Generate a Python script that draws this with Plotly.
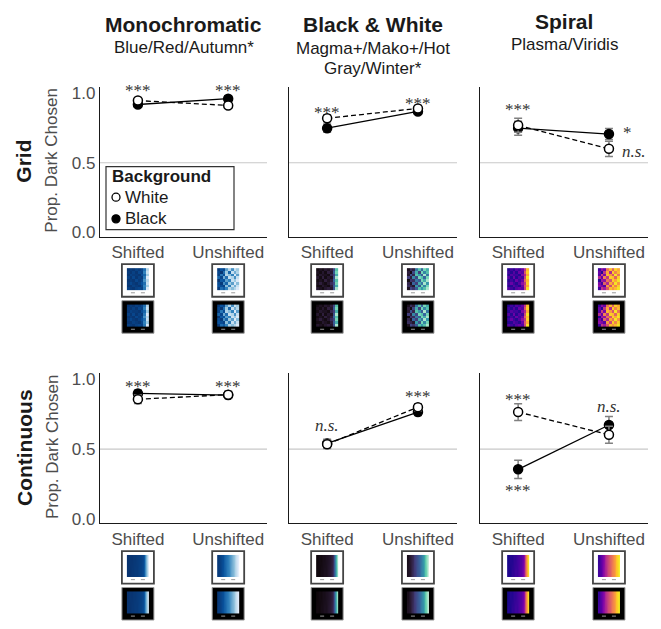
import plotly.graph_objects as go

W, H = 661, 629

categories = ["Shifted", "Unshifted"]
col_titles = ["Monochromatic", "Black & White", "Spiral"]
col_subtitles = [["Blue/Red/Autumn*"], ["Magma+/Mako+/Hot", "Gray/Winter*"], ["Plasma/Viridis"]]
row_titles = ["Grid", "Continuous"]
y_tick_vals = [0.0, 0.5, 1.0]
y_tick_text = ["0.0", "0.5", "1.0"]

# Proportion dark chosen, per colormap group [Shifted, Unshifted]
grid_white_mean = [[0.946, 0.911], [0.819, 0.890], [0.769, 0.600]]
grid_black_mean = [[0.918, 0.960], [0.748, 0.868], [0.748, 0.706]]
grid_white_err = [[0.02, 0.02], [0.025, 0.02], [0.05, 0.055]]
grid_black_err = [[0.02, 0.02], [0.03, 0.02], [0.05, 0.04]]

cont_white_mean = [[0.855, 0.888], [0.535, 0.799], [0.764, 0.602]]
cont_black_mean = [[0.897, 0.885], [0.540, 0.764], [0.356, 0.672]]
cont_white_err = [[0.03, 0.025], [0.03, 0.025], [0.06, 0.06]]
cont_black_err = [[0.025, 0.025], [0.03, 0.025], [0.065, 0.06]]

# significance labels: (row, col, x, y, text, xanchor)
sig_labels = [
    (0, 0, 0, 1.017, "***", "center"), (0, 0, 1, 1.017, "***", "center"),
    (0, 1, 0, 0.861, "***", "center"), (0, 1, 1, 0.925, "***", "center"),
    (0, 2, 0, 0.883, "***", "center"), (0, 2, 1.13, 0.715, "*", "left"),
    (0, 2, 1.12, 0.58, "<i>n.s.</i>", "left"),
    (1, 0, 0, 0.944, "***", "center"), (1, 0, 1, 0.944, "***", "center"),
    (1, 1, 0, 0.665, "<i>n.s.</i>", "center"), (1, 1, 1, 0.877, "***", "center"),
    (1, 2, 0, 0.855, "***", "center"), (1, 2, 0, 0.208, "***", "center"),
    (1, 2, 1, 0.806, "<i>n.s.</i>", "center"),
]

# thumbnail images (stimulus previews)
grid_shifted_img = [
    [0.05, 0.10, 0.05, 0.15, 0.10, 0.20, 0.45, 0.85],
    [0.10, 0.05, 0.15, 0.05, 0.20, 0.15, 0.55, 0.90],
    [0.05, 0.15, 0.10, 0.10, 0.05, 0.25, 0.40, 0.80],
    [0.15, 0.05, 0.20, 0.05, 0.15, 0.10, 0.50, 0.95],
    [0.05, 0.10, 0.05, 0.20, 0.10, 0.20, 0.60, 0.85],
    [0.10, 0.20, 0.10, 0.05, 0.15, 0.30, 0.45, 0.90],
    [0.05, 0.05, 0.15, 0.10, 0.05, 0.20, 0.55, 0.80],
    [0.15, 0.10, 0.05, 0.15, 0.20, 0.15, 0.50, 0.95],
]
grid_unshifted_img = [
    [0.10, 0.30, 0.20, 0.65, 0.85, 0.60, 0.90, 0.80],
    [0.20, 0.05, 0.45, 0.80, 0.40, 0.90, 0.70, 0.85],
    [0.15, 0.50, 0.25, 0.85, 0.75, 0.55, 0.95, 0.65],
    [0.40, 0.20, 0.70, 0.45, 0.90, 0.85, 0.60, 0.90],
    [0.05, 0.35, 0.30, 0.65, 0.55, 0.90, 0.80, 0.95],
    [0.25, 0.10, 0.60, 0.40, 0.80, 0.65, 0.95, 0.75],
    [0.30, 0.25, 0.15, 0.75, 0.50, 0.90, 0.70, 0.90],
    [0.10, 0.45, 0.35, 0.55, 0.85, 0.75, 0.85, 0.95],
]
cont_shifted_img = [
    [0.02, 0.05, 0.04, 0.08, 0.07, 0.10, 0.12, 0.15, 0.22, 0.42, 0.72, 0.95],
    [0.04, 0.03, 0.07, 0.06, 0.10, 0.09, 0.14, 0.17, 0.25, 0.45, 0.70, 0.93],
]
cont_unshifted_img = [
    [0.08, 0.17, 0.25, 0.33, 0.43, 0.50, 0.59, 0.66, 0.75, 0.82, 0.91, 0.97],
    [0.11, 0.15, 0.27, 0.35, 0.40, 0.52, 0.57, 0.68, 0.73, 0.84, 0.89, 0.98],
]

mono_cs = [[0, "#08306b"], [0.3, "#08519c"], [0.55, "#3182bd"], [0.8, "#9ecae1"], [1, "#eff3ff"]]
mako_cs = [[0, "#0b0405"], [0.2, "#2e1e3c"], [0.4, "#413d7b"], [0.6, "#37659e"],
           [0.75, "#3497a9"], [0.88, "#60ceac"], [1, "#def5e5"]]
col_colorscales = [mono_cs, mako_cs, "Plasma"]

# ---------------- layout geometry (pixels) ----------------
col_px = [(100, 267), (289, 457), (480, 648)]
row_px = [(85, 237), (375, 528)]
x_range = [-0.42, 1.43]
y_range = [-0.03, 1.045]

SANS = "Liberation Sans"
SERIF = "Liberation Serif"
GREY_TXT = "#4d4d4d"

fig = go.Figure()
layout = dict(
    width=W, height=H, margin=dict(l=0, r=0, t=0, b=0),
    paper_bgcolor="white", plot_bgcolor="rgba(0,0,0,0)",
    showlegend=False, font=dict(family=SANS, size=17, color="#1a1a1a"),
)
shapes, annotations = [], []

means = [(grid_white_mean, grid_black_mean, grid_white_err, grid_black_err),
         (cont_white_mean, cont_black_mean, cont_white_err, cont_black_err)]

for r in range(2):
    wm, bm, we, be = means[r]
    for c in range(3):
        i = r * 3 + c + 1
        xs = "" if i == 1 else str(i)
        x0p, x1p = col_px[c]
        y0p, y1p = row_px[r]
        layout["xaxis" + xs] = dict(
            domain=[x0p / W, x1p / W], range=x_range, anchor="y" + xs,
            tickvals=[0, 1], ticktext=categories, showgrid=False, zeroline=False,
            showline=True, linecolor="#1a1a1a", linewidth=1.2, ticks="",
            tickfont=dict(family=SANS, size=17, color=GREY_TXT), fixedrange=True,
        )
        layout["yaxis" + xs] = dict(
            domain=[1 - y1p / H, 1 - y0p / H], range=y_range, anchor="x" + xs,
            tickvals=y_tick_vals, ticktext=y_tick_text, showticklabels=(c == 0),
            showgrid=False, zeroline=False, showline=True, linecolor="#1a1a1a",
            linewidth=1.2, ticks="", tickfont=dict(family=SANS, size=17, color=GREY_TXT),
            fixedrange=True,
        )
        shapes.append(dict(type="line", xref="x" + xs + " domain", yref="y" + xs,
                           x0=0, x1=1, y0=0.5, y1=0.5, layer="below",
                           line=dict(color="#c8c8c8", width=1.2)))
        # black background series
        fig.add_trace(go.Scatter(
            x=[0, 1], y=bm[c], xaxis="x" + xs, yaxis="y" + xs, mode="lines+markers",
            line=dict(color="black", width=1.3),
            marker=dict(size=9, color="black", line=dict(color="black", width=1.5)),
            error_y=dict(type="data", array=be[c], color="#808080", thickness=1.5, width=4),
            cliponaxis=False, name="Black", hoverinfo="y",
        ))
        # white background series
        fig.add_trace(go.Scatter(
            x=[0, 1], y=wm[c], xaxis="x" + xs, yaxis="y" + xs, mode="lines+markers",
            line=dict(color="black", width=1.3, dash="5px,3px"),
            marker=dict(size=9, color="white", line=dict(color="black", width=1.5)),
            error_y=dict(type="data", array=we[c], color="#808080", thickness=1.5, width=4),
            cliponaxis=False, name="White", hoverinfo="y",
        ))

for (r, c, x, y, txt, xa) in sig_labels:
    i = r * 3 + c + 1
    xs = "" if i == 1 else str(i)
    annotations.append(dict(xref="x" + xs, yref="y" + xs, x=x, y=y, text=txt,
                            showarrow=False, xanchor=xa, yanchor="middle",
                            font=dict(family=SERIF, size=17, color="#333333")))

# overlay axis in pixel units for thumbnails and legend
layout["xaxis7"] = dict(domain=[0, 1], range=[0, W], anchor="y7", visible=False, fixedrange=True)
layout["yaxis7"] = dict(domain=[0, 1], range=[H, 0], anchor="x7", visible=False, fixedrange=True)


def cat_px(c, k):
    x0p, x1p = col_px[c]
    return x0p + (k - x_range[0]) / (x_range[1] - x_range[0]) * (x1p - x0p)


thumb_imgs = [[grid_shifted_img, grid_unshifted_img], [cont_shifted_img, cont_unshifted_img]]
for r in range(2):
    top0 = row_px[r][1] + 28
    for c in range(3):
        for k in range(2):
            cx = cat_px(c, k)
            for b, bg in enumerate(["white", "black"]):
                ty = top0 + b * 37
                shapes.append(dict(type="rect", xref="x7", yref="y7",
                                   x0=cx - 16, x1=cx + 16, y0=ty, y1=ty + 33, layer="below",
                                   fillcolor=bg,
                                   line=dict(color="#444444" if bg == "white" else "#9a9a9a",
                                             width=1.8 if bg == "white" else 1)))
                img = thumb_imgs[r][k]
                nrow, ncol = len(img), len(img[0])
                iw, ih = 22, 22
                dx, dy = iw / ncol, ih / nrow
                fig.add_trace(go.Heatmap(
                    z=img, x0=cx - iw / 2 + dx / 2, dx=dx, y0=ty + 4 + dy / 2, dy=dy,
                    xaxis="x7", yaxis="y7", colorscale=col_colorscales[c], zmin=0, zmax=1,
                    showscale=False, hoverinfo="skip",
                    zsmooth="best" if r == 1 else False,
                ))
                # tiny axis-label marks under each preview
                for off in (-5, 5):
                    shapes.append(dict(type="line", xref="x7", yref="y7",
                                       x0=cx + off - 2, x1=cx + off + 2, y0=ty + 29, y1=ty + 29,
                                       layer="above", line=dict(color="#9a9a9a", width=1)))

# legend box (drawn by hand)
shapes.append(dict(type="rect", xref="x7", yref="y7", x0=106, x1=234, y0=166, y1=230,
                   layer="below", fillcolor="white", line=dict(color="#333333", width=1.2)))
fig.add_trace(go.Scatter(x=[116, 116], y=[197, 219], xaxis="x7", yaxis="y7", mode="markers",
                         marker=dict(size=8, color=["white", "black"],
                                     line=dict(color="black", width=1.3)),
                         hoverinfo="skip"))
annotations += [
    dict(xref="x7", yref="y7", x=110, y=176, text="<b>Background</b>", showarrow=False,
         xanchor="left", yanchor="middle", font=dict(family=SANS, size=17, color="#1a1a1a")),
    dict(xref="x7", yref="y7", x=123, y=197, text="White", showarrow=False,
         xanchor="left", yanchor="middle", font=dict(family=SANS, size=17, color="#1a1a1a")),
    dict(xref="x7", yref="y7", x=123, y=219, text="Black", showarrow=False,
         xanchor="left", yanchor="middle", font=dict(family=SANS, size=17, color="#1a1a1a")),
]

# column titles
title_y = [22, 22, 19]
sub_y = [[45], [46, 66], [42]]
for c in range(3):
    cx = (col_px[c][0] + col_px[c][1]) / 2
    annotations.append(dict(xref="paper", yref="paper", x=cx / W, y=1 - title_y[c] / H,
                            text="<b>" + col_titles[c] + "</b>", showarrow=False,
                            xanchor="center", yanchor="middle",
                            font=dict(family=SANS, size=21, color="#1a1a1a")))
    for line, sy in zip(col_subtitles[c], sub_y[c]):
        annotations.append(dict(xref="paper", yref="paper", x=cx / W, y=1 - sy / H,
                                text=line, showarrow=False, xanchor="center", yanchor="middle",
                                font=dict(family=SANS, size=17, color="#1a1a1a")))

# row titles and y-axis titles
for r in range(2):
    cy = (row_px[r][0] + row_px[r][1]) / 2
    annotations.append(dict(xref="paper", yref="paper", x=24 / W, y=1 - (cy + 0) / H,
                            text="<b>" + row_titles[r] + "</b>", showarrow=False, textangle=-90,
                            xanchor="center", yanchor="middle",
                            font=dict(family=SANS, size=21, color="#1a1a1a")))
    annotations.append(dict(xref="paper", yref="paper", x=52 / W, y=1 - (cy - 1) / H,
                            text="Prop. Dark Chosen", showarrow=False, textangle=-90,
                            xanchor="center", yanchor="middle",
                            font=dict(family=SANS, size=17, color=GREY_TXT)))

layout["shapes"] = shapes
layout["annotations"] = annotations
fig.update_layout(**layout)
fig.write_html("out.html")
